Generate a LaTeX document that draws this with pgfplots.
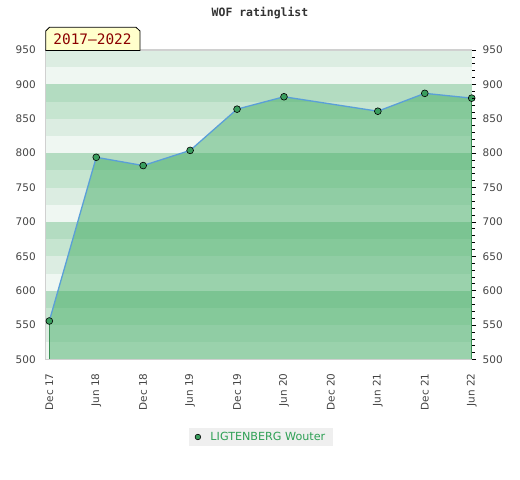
\documentclass[border=0pt]{standalone}
\usepackage{pgfplots}
\pgfplotsset{compat=1.18}
\usepackage{fontspec}
\setmainfont{DejaVu Sans}
\newfontfamily\monof{DejaVu Sans Mono}
\definecolor{cA}{HTML}{EFF7F2}
\definecolor{cB}{HTML}{DCEDE2}
\definecolor{cC}{HTML}{C6E5D0}
\definecolor{cD}{HTML}{B3DCC1}
\definecolor{areagreen}{HTML}{3CAA5F}
\definecolor{edgegreen}{HTML}{3A8F55}
\definecolor{lineblue}{HTML}{5A9FD8}
\definecolor{markgreen}{HTML}{3A9E5E}
\definecolor{legendgreen}{HTML}{2EA055}
\definecolor{legendbg}{HTML}{EFEFEF}
\definecolor{titlegray}{HTML}{333333}
\definecolor{tickgray}{HTML}{444444}
\definecolor{framegray}{HTML}{D0D0D0}
\definecolor{boxyellow}{HTML}{FFFFCC}
\definecolor{boxred}{HTML}{8B0000}
\begin{document}
\begin{tikzpicture}
\path[use as bounding box] (0,0) rectangle (520bp,480bp);
\begin{axis}[
  at={(45.7bp,120.5bp)}, anchor=south west,
  scale only axis, width=426bp, height=309.5bp,
  xmin=-0.077, xmax=9, ymin=500, ymax=950,
  clip=false,
  xtick={0,1,2,3,4,5,6,7,8,9},
  xticklabels={Dec 17,Jun 18,Dec 18,Jun 19,Dec 19,Jun 20,Dec 20,Jun 21,Dec 21,Jun 22},
  ytick={500,550,600,650,700,750,800,850,900,950},
  tick style={draw=none},
  axis line style={draw=none},
  /pgf/number format/assume math mode=true,
  ticklabel style={font=\fontsize{10.5}{12}\selectfont, text=tickgray},
  xticklabel style={yshift=-10.5bp, rotate=90, anchor=east},
  yticklabel style={xshift=-6.5bp},
  legend style={at={(0.506,-0.2504)}, anchor=center, fill=legendbg, draw=none,
    font=\fontsize{11.2}{13}\selectfont, text=legendgreen,
    inner xsep=5.5bp, inner ysep=1.9bp, column sep=7bp,
    nodes={inner sep=2.5bp}},
  legend image code/.code={\draw[fill=markgreen, draw=black, line width=0.6bp] (0bp,0bp) circle (2.8bp);},
]
% background bands
\fill[cA] (axis cs:-0.077,500) rectangle (axis cs:9,525);
\fill[cB] (axis cs:-0.077,525) rectangle (axis cs:9,550);
\fill[cC] (axis cs:-0.077,550) rectangle (axis cs:9,575);
\fill[cD] (axis cs:-0.077,575) rectangle (axis cs:9,600);
\fill[cA] (axis cs:-0.077,600) rectangle (axis cs:9,625);
\fill[cB] (axis cs:-0.077,625) rectangle (axis cs:9,650);
\fill[cC] (axis cs:-0.077,650) rectangle (axis cs:9,675);
\fill[cD] (axis cs:-0.077,675) rectangle (axis cs:9,700);
\fill[cA] (axis cs:-0.077,700) rectangle (axis cs:9,725);
\fill[cB] (axis cs:-0.077,725) rectangle (axis cs:9,750);
\fill[cC] (axis cs:-0.077,750) rectangle (axis cs:9,775);
\fill[cD] (axis cs:-0.077,775) rectangle (axis cs:9,800);
\fill[cA] (axis cs:-0.077,800) rectangle (axis cs:9,825);
\fill[cB] (axis cs:-0.077,825) rectangle (axis cs:9,850);
\fill[cC] (axis cs:-0.077,850) rectangle (axis cs:9,875);
\fill[cD] (axis cs:-0.077,875) rectangle (axis cs:9,900);
\fill[cA] (axis cs:-0.077,900) rectangle (axis cs:9,925);
\fill[cB] (axis cs:-0.077,925) rectangle (axis cs:9,950);
% area
\addplot[fill=areagreen, fill opacity=0.47, draw=none, forget plot] coordinates {
  (0,500) (0,556) (1,794) (2,782) (3,804) (4,864) (5,882) (7,861) (8,887) (9,880) (9,500)};
\addplot[edgegreen, line width=1bp, forget plot] coordinates {(0,500) (0,556)};
\addplot[edgegreen, line width=1bp, forget plot] coordinates {(9,500) (9,880)};
% frame
\draw[framegray, line width=1.2bp] (axis cs:9,950) -- (axis cs:-0.077,950) -- (axis cs:-0.077,500) -- (axis cs:9,500);
% line
\addplot[lineblue, line width=1.3bp, forget plot] coordinates {
  (0,556) (1,794) (2,782) (3,804) (4,864) (5,882) (7,861) (8,887) (9,880)};
\addplot[only marks, mark=*, mark size=3.4bp, mark options={fill=markgreen, draw=black, line width=0.6bp}] coordinates {
  (0,556) (1,794) (2,782) (3,804) (4,864) (5,882) (7,861) (8,887) (9,880)};
\addlegendentry{LIGTENBERG Wouter}
\end{axis}
\begin{axis}[
  at={(45.7bp,120.5bp)}, anchor=south west,
  scale only axis, width=426bp, height=309.5bp,
  xmin=-0.077, xmax=9, ymin=500, ymax=950,
  axis x line=none, axis y line*=right,
  y axis line style={draw=none},
  ytick={500,550,600,650,700,750,800,850,900,950},
  minor y tick num=4,
  tick align=outside,
  major tick length=4.5bp, minor tick length=3bp,
  every tick/.style={black, line width=0.7bp},
  /pgf/number format/assume math mode=true,
  yticklabel style={font=\fontsize{10.5}{12}\selectfont, text=tickgray, xshift=3bp},
]
\addplot[draw=none, forget plot] coordinates {(0,500) (9,950)};
\end{axis}
% title
\node[font=\monof\bfseries\fontsize{11.5}{13}\selectfont, text=titlegray] at (260bp,467bp) {WOF ratinglist};
% period box
\draw[fill=boxyellow, draw=black, line width=0.8bp]
  (45.7bp,429.5bp) -- (45.7bp,449bp) -- (49.5bp,452.7bp) -- (136bp,452.7bp) -- (140bp,449bp) -- (140bp,429.5bp) -- cycle;
\node[font=\monof\fontsize{14.5}{16}\selectfont, text=boxred] at (92.5bp,440.5bp) {2017–2022};
\end{tikzpicture}
\end{document}
